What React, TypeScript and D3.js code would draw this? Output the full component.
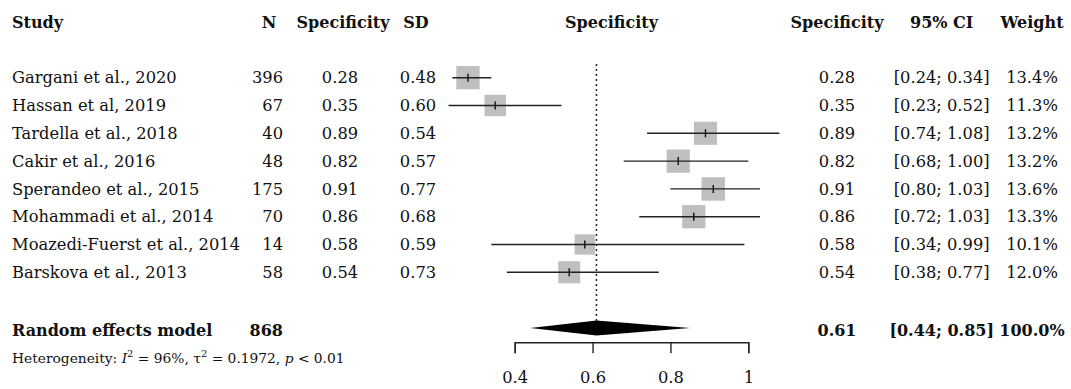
import React, { useEffect, useRef } from 'react'
import * as d3 from 'd3'

const studies = [
  'Gargani et al., 2020',
  'Hassan et al, 2019',
  'Tardella et al., 2018',
  'Cakir et al., 2016',
  'Sperandeo et al., 2015',
  'Mohammadi et al., 2014',
  'Moazedi-Fuerst et al., 2014',
  'Barskova et al., 2013',
]
const nTotal = [396, 67, 40, 48, 175, 70, 14, 58]
const sdValues = [0.48, 0.6, 0.54, 0.57, 0.77, 0.68, 0.59, 0.73]
const specificity = [0.28, 0.35, 0.89, 0.82, 0.91, 0.86, 0.58, 0.54]
const ciLower = [0.24, 0.23, 0.74, 0.68, 0.8, 0.72, 0.34, 0.38]
const ciUpper = [0.34, 0.52, 1.08, 1.0, 1.03, 1.03, 0.99, 0.77]
const weights = [13.4, 11.3, 13.2, 13.2, 13.6, 13.3, 10.1, 12.0]

const pooledN = 868
const pooledEst = 0.61
const pooledLower = 0.44
const pooledUpper = 0.85
const axisTicks = [0.4, 0.6, 0.8, 1]

const FONT = '"DejaVu Serif", serif'

const App = () => {
  const svgRef = useRef<SVGSVGElement>(null)

  useEffect(() => {
    draw()
  }, [])

  const draw = () => {
    const svg = d3.select(svgRef.current)
    svg.selectAll('*').remove()

    const x = d3.scaleLinear().domain([0.4, 1]).range([514.7, 748.3])
    const y = d3.scalePoint().domain(studies).range([77.7, 272.3])
    const rows = studies.map((s, i) => ({
      study: s,
      n: nTotal[i],
      sd: sdValues[i],
      est: specificity[i],
      lo: ciLower[i],
      hi: ciUpper[i],
      w: weights[i],
    }))
    const f2 = d3.format('.2f')
    const sq = d3.scaleSqrt().domain([0, 13.6]).range([0, 23.5])

    const g = svg.append('g').style('font-family', FONT).style('font-size', '16.3px').attr('fill', '#111')

    // headers
    const headers = [
      { t: 'Study', x: 12, a: 'start' },
      { t: 'N', x: 269, a: 'middle' },
      { t: 'Specificity', x: 343, a: 'middle' },
      { t: 'SD', x: 416, a: 'middle' },
      { t: 'Specificity', x: 611.5, a: 'middle' },
      { t: 'Specificity', x: 837, a: 'middle' },
      { t: '95% CI', x: 941.7, a: 'middle' },
      { t: 'Weight', x: 1032, a: 'middle' },
    ]
    g.selectAll('text.hdr')
      .data(headers)
      .enter()
      .append('text')
      .attr('class', 'hdr')
      .attr('x', (d) => d.x)
      .attr('y', 28)
      .attr('text-anchor', (d) => d.a)
      .attr('font-weight', 'bold')
      .style('font-size', '16px')
      .text((d) => d.t)

    // study rows text
    const rowG = g
      .selectAll('g.row')
      .data(rows)
      .enter()
      .append('g')
      .attr('class', 'row')
      .attr('transform', (d) => `translate(0,${(y(d.study) as number) + 5.6})`)
    rowG.append('text').attr('x', 12).text((d) => d.study)
    rowG.append('text').attr('x', 283).attr('text-anchor', 'end').text((d) => d.n)
    rowG.append('text').attr('x', 340).attr('text-anchor', 'middle').text((d) => f2(d.est))
    rowG.append('text').attr('x', 418).attr('text-anchor', 'middle').text((d) => f2(d.sd))
    rowG.append('text').attr('x', 837).attr('text-anchor', 'middle').text((d) => f2(d.est))
    rowG
      .append('text')
      .attr('x', 941.7)
      .attr('text-anchor', 'middle')
      .text((d) => `[${f2(d.lo)}; ${f2(d.hi)}]`)
    rowG
      .append('text')
      .attr('x', 1032)
      .attr('text-anchor', 'middle')
      .text((d) => `${d.w.toFixed(1)}%`)

    // dotted reference line at pooled estimate
    svg
      .append('line')
      .attr('x1', x(pooledEst))
      .attr('x2', x(pooledEst))
      .attr('y1', 64)
      .attr('y2', 321)
      .attr('stroke', '#222')
      .attr('stroke-width', 1.5)
      .attr('stroke-dasharray', '2,3')

    // squares
    const marks = svg.append('g')
    marks
      .selectAll('rect')
      .data(rows)
      .enter()
      .append('rect')
      .attr('x', (d) => x(d.est) - sq(d.w) / 2)
      .attr('y', (d) => (y(d.study) as number) - sq(d.w) / 2)
      .attr('width', (d) => sq(d.w))
      .attr('height', (d) => sq(d.w))
      .attr('fill', '#bfbfbf')

    // CI lines
    marks
      .selectAll('line.ci')
      .data(rows)
      .enter()
      .append('line')
      .attr('class', 'ci')
      .attr('x1', (d) => x(d.lo))
      .attr('x2', (d) => x(d.hi))
      .attr('y1', (d) => y(d.study) as number)
      .attr('y2', (d) => y(d.study) as number)
      .attr('stroke', '#222')
      .attr('stroke-width', 1.4)

    // estimate ticks
    marks
      .selectAll('line.est')
      .data(rows)
      .enter()
      .append('line')
      .attr('class', 'est')
      .attr('x1', (d) => x(d.est))
      .attr('x2', (d) => x(d.est))
      .attr('y1', (d) => (y(d.study) as number) - 4)
      .attr('y2', (d) => (y(d.study) as number) + 4)
      .attr('stroke', '#111')
      .attr('stroke-width', 1.4)

    // pooled diamond
    const dy = 328
    svg
      .append('path')
      .attr(
        'd',
        `M${x(pooledLower)},${dy} L${x(pooledEst)},${dy - 7.5} L${x(pooledUpper)},${dy} L${x(pooledEst)},${dy + 7.5} Z`
      )
      .attr('fill', '#000')

    // pooled row text
    const pooled = g
      .append('g')
      .attr('font-weight', 'bold')
      .style('font-size', '16px')
      .attr('transform', `translate(0,${dy + 7.5})`)
    pooled.append('text').attr('x', 12).text('Random effects model')
    pooled.append('text').attr('x', 283).attr('text-anchor', 'end').text(pooledN)
    pooled.append('text').attr('x', 837).attr('text-anchor', 'middle').text(f2(pooledEst))
    pooled
      .append('text')
      .attr('x', 941.7)
      .attr('text-anchor', 'middle')
      .text(`[${f2(pooledLower)}; ${f2(pooledUpper)}]`)
    pooled.append('text').attr('x', 1032).attr('text-anchor', 'middle').text('100.0%')

    // heterogeneity
    const het = g.append('text').attr('x', 12).attr('y', 363.3).style('font-size', '13.8px')
    het.append('tspan').text('Heterogeneity: ')
    het.append('tspan').attr('font-style', 'italic').text('I')
    het.append('tspan').attr('dy', -6).style('font-size', '10px').text('2')
    het.append('tspan').attr('dy', 6).text(' = 96%, τ')
    het.append('tspan').attr('dy', -6).style('font-size', '10px').text('2')
    het.append('tspan').attr('dy', 6).text(' = 0.1972, ')
    het.append('tspan').attr('font-style', 'italic').text('p')
    het.append('tspan').text(' < 0.01')

    // axis
    const axis = svg
      .append('g')
      .attr('transform', 'translate(0,342.3)')
      .call(
        d3
          .axisBottom(x)
          .tickValues(axisTicks)
          .tickSize(11)
          .tickSizeOuter(11)
          .tickPadding(18)
          .tickFormat(d3.format('~g') as any)
      )
    axis.selectAll('path, line').attr('stroke', '#222').attr('stroke-width', 1.4)
    axis.selectAll('text').style('font-family', FONT).style('font-size', '16.3px').attr('fill', '#111')
  }

  return (
    <svg
      ref={svgRef}
      width={1071}
      height={389}
      style={{ position: 'absolute', left: 0, top: 0, background: '#fff' }}
    ></svg>
  )
}

export default App
